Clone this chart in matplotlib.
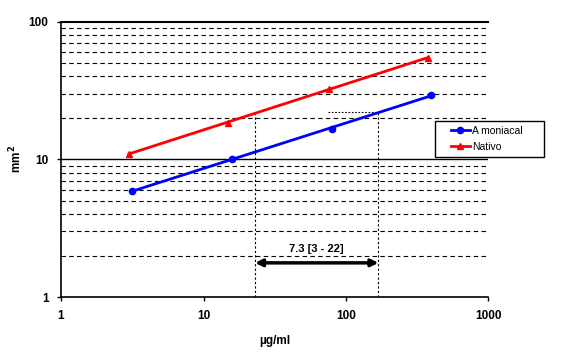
import numpy as np
import matplotlib.pyplot as plt
from matplotlib.patches import Rectangle
from matplotlib.ticker import FixedLocator

plt.rcParams['font.family'] = ['Liberation Sans', 'DejaVu Sans']
plt.rcParams['font.weight'] = 'bold'

# data
amon_x = [3.15, 15.9, 80, 398]
amon_y = [5.9, 10.0, 16.7, 29.4]
nat_x = [3.0, 14.9, 76, 379]
nat_y = [11.0, 18.4, 32.6, 54.7]

# dose marks for the interval
x_lo = 23
x_hi = 169
y_mark = 22
arrow_y = 1.77
label_y = 2.25
label = "7.3 [3 - 22]"

fig = plt.figure(figsize=(5.76, 3.54), dpi=100)
ax = fig.add_axes([0.106, 0.161, 0.742, 0.778])
ax.set_xscale('log')
ax.set_yscale('log')
ax.set_xlim(1, 1000)
ax.set_ylim(1, 100)

# horizontal grid: dashed minors, solid majors
for v in [2, 3, 4, 5, 6, 7, 8, 9, 20, 30, 40, 50, 60, 70, 80, 90]:
    ax.axhline(v, color='black', lw=0.8, ls=(0, (4, 3)), zorder=1)
ax.axhline(10, color='black', lw=1.0, zorder=1)
ax.axhline(100, color='black', lw=1.5, zorder=1, clip_on=False)

# fitted lines in log-log space
def fit_line(xs, ys):
    p = np.polyfit(np.log10(xs), np.log10(ys), 1)
    xx = np.array([xs[0], xs[-1]])
    return xx, 10 ** np.polyval(p, np.log10(xx))

fx, fy = fit_line(amon_x, amon_y)
ax.plot(fx, fy, color='#0000ff', lw=2, zorder=3)
fx, fy = fit_line(nat_x, nat_y)
ax.plot(fx, fy, color='#ff0000', lw=2, zorder=3)

ax.plot(amon_x, amon_y, 'o', color='#0000ff', ms=4.5, zorder=4)
ax.plot(nat_x, nat_y, '^', color='#ff0000', ms=5, zorder=4)

# legend proxies
ax.plot([], [], '-o', color='#0000ff', lw=2, ms=4.5, label='A moniacal')
ax.plot([], [], '-^', color='#ff0000', lw=2, ms=5, label='Nativo')

# dotted drop lines
p_n = np.polyfit(np.log10(nat_x), np.log10(nat_y), 1)
ax.plot([x_lo, x_lo], [1, 10 ** np.polyval(p_n, np.log10(x_lo))], color='black', lw=0.8, ls=(0, (2, 2)), zorder=2)
ax.plot([x_hi, x_hi], [1, y_mark], color='black', lw=0.8, ls=(0, (2, 2)), zorder=2)
ax.plot([75, x_hi], [y_mark, y_mark], color='black', lw=0.8, ls=(0, (1.5, 1.5)), zorder=2)

ax.annotate('', xy=(x_lo, arrow_y), xytext=(x_hi, arrow_y),
            arrowprops=dict(arrowstyle='<|-|>', color='black', lw=2.5,
                            mutation_scale=10, shrinkA=0, shrinkB=0), zorder=5)
ax.text(np.sqrt(x_lo * x_hi), label_y, label, ha='center', va='center',
        fontsize=8, fontweight='bold')

for s in ['top', 'right']:
    ax.spines[s].set_visible(False)
ax.spines['left'].set_linewidth(1.2)
ax.spines['bottom'].set_linewidth(1.2)

ax.xaxis.set_major_locator(FixedLocator([1, 10, 100, 1000]))
ax.yaxis.set_major_locator(FixedLocator([1, 10, 100]))
ax.xaxis.set_minor_locator(FixedLocator([]))
ax.yaxis.set_minor_locator(FixedLocator([]))
ax.set_xticklabels(['1', '10', '100', '1000'])
ax.set_yticklabels(['1', '10', '100'])
ax.tick_params(direction='out', length=3, width=1, labelsize=8.5, pad=6)

ax.set_xlabel('µg/ml', fontsize=8.5, fontweight='bold', labelpad=10)
ax.set_ylabel('mm$^\\mathbf{2}$', fontsize=8.5, fontweight='bold', labelpad=3)

# legend box, drawn by hand so the padding matches
box = Rectangle((0.876, 0.509), 0.253, 0.131, transform=ax.transAxes,
                facecolor='white', edgecolor='black', lw=1, clip_on=False, zorder=6)
ax.add_patch(box)
leg = ax.legend(loc='center left', bbox_to_anchor=(0.912, 0.575),
                prop={'size': 7.5, 'weight': 'normal'}, frameon=False,
                handlelength=1.8, handletextpad=0.25, borderpad=0,
                labelspacing=0.55, borderaxespad=0)
leg.set_zorder(7)

fig.savefig('out.png', dpi=100)
